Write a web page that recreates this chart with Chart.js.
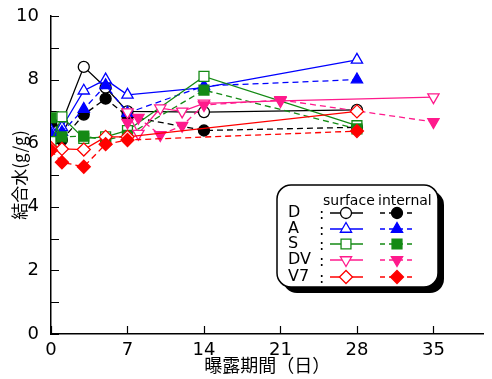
<!DOCTYPE html>
<html>
<head>
<meta charset="utf-8">
<script src="https://cdn.jsdelivr.net/npm/chart.js@4/dist/chart.umd.min.js"></script>
<style>
  html, body { margin: 0; padding: 0; background: #fff; }
  #wrap { width: 492px; height: 379px; }
</style>
</head>
<body>
<div id="wrap"><canvas id="chart"></canvas></div>
<script>
// exposure days and bound water (g/g)
const xTicks = [0, 7, 14, 21, 28, 35];
const baseDays = [0, 1, 3, 5, 7, 14, 28];
const dSurface = [6.5, 6.65, 8.4, 7.75, 7.0, 6.98, 7.05];
const dInternal = [6.65, 6.1, 6.9, 7.4, 6.85, 6.4, 6.5];
const aSurface = [6.4, 6.5, 7.65, 8.0, 7.52, 7.75, 8.62];
const aInternal = [6.3, 6.35, 7.07, 7.82, 6.95, 7.8, 8.0];
const sSurface = [6.05, 6.83, 6.15, 6.2, 6.4, 8.1, 6.55];
const sInternal = [6.8, 6.2, 6.22, 6.1, 6.25, 7.67, 6.45];
const dvDays = [7, 8, 10, 12, 14, 21, 35];
const dvSurface = [6.98, 6.3, 7.1, 7.0, 7.25, 7.33, 7.45];
const dvInternal = [6.65, 6.8, 6.26, 6.55, 7.2, 7.36, 6.67];
const v7Days = [0, 1, 3, 5, 7, 28];
const v7Surface = [5.85, 5.82, 5.8, 6.2, 6.2, 7.0];
const v7Internal = [5.78, 5.4, 5.26, 5.97, 6.1, 6.38];

const labels = ['D', 'A', 'S', 'DV', 'V7'];
const colors = ['#000000', '#0000ff', '#148a14', '#ff1a8c', '#ff0000'];
const styles = ['circle', 'triangle', 'rect', 'triangle', 'rectRot'];
const radii = [5.5, 6.5, 7, 6.5, 6.5];
const rotations = [0, 0, 0, 180, 0];

const groups = [
    [baseDays, dSurface, dInternal],
    [baseDays, aSurface, aInternal],
    [baseDays, sSurface, sInternal],
    [dvDays, dvSurface, dvInternal],
    [v7Days, v7Surface, v7Internal]
];

function pts(days, vals) {
    return days.map((d, i) => ({x: d, y: vals[i]}));
}

var datasets = [];
groups.forEach(function(g, i) {
    [false, true].forEach(function(filled, k) {
        datasets.push({
            label: labels[i] + (filled ? ' internal' : ' surface'),
            data: pts(g[0], g[k + 1]),
            borderColor: colors[i],
            backgroundColor: filled ? colors[i] : '#ffffff',
            pointBorderColor: colors[i],
            pointBackgroundColor: filled ? colors[i] : '#ffffff',
            pointStyle: styles[i],
            pointRotation: rotations[i],
            pointRadius: radii[i],
            pointBorderWidth: 1.3,
            borderWidth: 1.3,
            borderDash: filled ? [6, 4] : [],
            tension: 0,
            order: 20 - datasets.length
        });
    });
});

const tickMarks = {
    id: 'tickMarks',
    beforeDatasetsDraw: function(chart) {
        var ctx = chart.ctx, area = chart.chartArea,
            x = chart.scales.x, y = chart.scales.y;
        ctx.save();
        ctx.strokeStyle = '#000';
        ctx.lineWidth = 1.2;
        ctx.beginPath();
        xTicks.forEach(function(v) {
            var px = Math.round(x.getPixelForValue(v)) + 0.5;
            ctx.moveTo(px, area.bottom);
            ctx.lineTo(px, area.bottom - 8);
        });
        for (var v = 0; v <= 10; v++) {
            var py = Math.round(y.getPixelForValue(v)) + 0.5;
            ctx.moveTo(area.left, py);
            ctx.lineTo(area.left + 8, py);
        }
        ctx.stroke();
        ctx.restore();
    }
};

function roundRect(ctx, x, y, w, h, r) {
    ctx.beginPath();
    ctx.moveTo(x + r, y);
    ctx.arcTo(x + w, y, x + w, y + h, r);
    ctx.arcTo(x + w, y + h, x, y + h, r);
    ctx.arcTo(x, y + h, x, y, r);
    ctx.arcTo(x, y, x + w, y, r);
    ctx.closePath();
}

const boxLegend = {
    id: 'boxLegend',
    afterDraw: function(chart) {
        var ctx = chart.ctx;
        var bx = 277, by = 185, bw = 161, bh = 102;
        ctx.save();
        roundRect(ctx, bx + 6, by + 6, bw, bh, 14);
        ctx.fillStyle = '#000';
        ctx.fill();
        roundRect(ctx, bx, by, bw, bh, 14);
        ctx.fillStyle = '#fff';
        ctx.fill();
        ctx.lineWidth = 1.5;
        ctx.strokeStyle = '#000';
        ctx.stroke();

        ctx.fillStyle = '#000';
        ctx.font = '14px "DejaVu Sans"';
        ctx.textBaseline = 'alphabetic';
        ctx.textAlign = 'left';
        ctx.fillText('surface', 323, 205);
        ctx.fillText('internal', 378, 205);

        var rows = [213, 229, 244, 260, 277];
        ctx.font = '16px "DejaVu Sans"';
        ctx.textBaseline = 'middle';
        labels.forEach(function(lab, i) {
            var yy = rows[i];
            ctx.fillStyle = '#000';
            ctx.fillText(lab, 288, yy);
            ctx.fillText(':', 319, yy + 2);
            ctx.strokeStyle = colors[i];
            ctx.lineWidth = 1.3;
            ctx.setLineDash([]);
            ctx.beginPath();
            ctx.moveTo(330, yy); ctx.lineTo(363, yy);
            ctx.stroke();
            ctx.setLineDash([5, 4]);
            ctx.beginPath();
            ctx.moveTo(380, yy); ctx.lineTo(414, yy);
            ctx.stroke();
            ctx.setLineDash([]);
            var opts = {pointStyle: styles[i], radius: radii[i], rotation: rotations[i], borderWidth: 1.3};
            ctx.fillStyle = '#fff';
            Chart.helpers.drawPoint(ctx, opts, 346, yy);
            ctx.fillStyle = colors[i];
            Chart.helpers.drawPoint(ctx, opts, 397, yy);
        });
        ctx.restore();
    }
};

new Chart(document.getElementById('chart'), {
    type: 'line',
    data: {datasets: datasets},
    options: {
        responsive: true,
        maintainAspectRatio: false,
        animation: false,
        layout: {padding: {top: 16, right: 0, left: 0, bottom: 0}},
        plugins: {
            legend: {display: false},
            tooltip: {enabled: false}
        },
        scales: {
            x: {
                type: 'linear',
                min: 0,
                max: 39.6,
                grid: {display: false},
                border: {color: '#000', width: 1.5},
                ticks: {
                    stepSize: 7,
                    includeBounds: false,
                    padding: -2,
                    color: '#000',
                    font: {family: 'DejaVu Sans', size: 18},
                    maxRotation: 0
                },
                title: {
                    display: true,
                    text: '曝露期間（日）',
                    color: '#000',
                    font: {family: 'Noto Sans CJK JP', size: 18},
                    padding: {top: 0, bottom: 3}
                },
                afterFit: function(scale) { scale.height = 45; }
            },
            y: {
                type: 'linear',
                min: 0,
                max: 10,
                grid: {display: false},
                border: {color: '#000', width: 1.5},
                ticks: {
                    stepSize: 2,
                    padding: 4,
                    color: '#000',
                    font: {family: 'DejaVu Sans', size: 18}
                },
                title: {
                    display: true,
                    text: '結合水(g/g)',
                    color: '#000',
                    font: {family: 'Noto Sans CJK JP', size: 17},
                    padding: {top: 9, bottom: 0}
                },
                afterFit: function(scale) { scale.width = 51; }
            }
        }
    },
    plugins: [tickMarks, boxLegend]
});
</script>
</body>
</html>
